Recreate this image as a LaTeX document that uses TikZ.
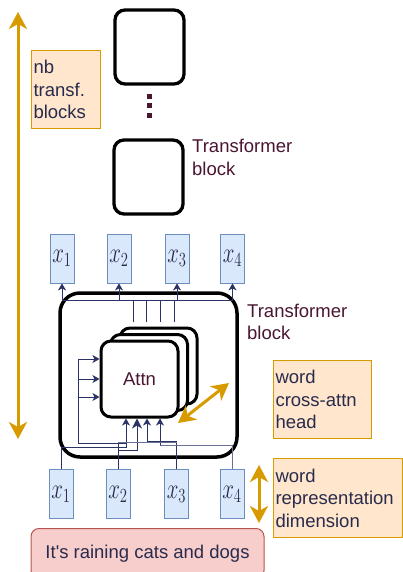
\documentclass[tikz,border=0pt]{standalone}
\usepackage[no-math]{fontspec}
\usepackage{fix-cm}
\usepackage{graphicx}
\setmainfont{Liberation Sans}[Ligatures=TeXOff]
\usetikzlibrary{arrows.meta}
\definecolor{orng}{HTML}{D79B00}
\definecolor{ofill}{HTML}{FFE6CC}
\definecolor{xfill}{HTML}{DAE8FC}
\definecolor{xline}{HTML}{6C8EBF}
\definecolor{rfill}{HTML}{F8CECC}
\definecolor{rline}{HTML}{B85450}
\definecolor{navy}{HTML}{2B3366}
\definecolor{navyl}{HTML}{6A7199}
\definecolor{maroon}{HTML}{4A1531}
\definecolor{txt}{HTML}{282B4D}
\newcommand{\xlab}[1]{\scalebox{0.95}[1.3]{$x_{#1}$}}
\begin{document}
\begin{tikzpicture}[x=1pt,y=-1pt,
  every node/.style={font=\fontsize{18.5}{22.5}\selectfont},
  blk/.style={draw=black, line width=3.3pt, rounded corners=10pt, minimum width=69pt, minimum height=74pt, inner sep=0pt},
  bigblk/.style={draw=black, line width=3.5pt, rounded corners=20pt, minimum width=177pt, minimum height=164pt, inner sep=0pt},
  xbox/.style={draw=xline, fill=xfill, line width=0.8pt, minimum width=24pt, minimum height=49pt, inner sep=0pt, font=\fontsize{22}{26}\selectfont, text=txt},
  obox/.style={draw=orng, fill=ofill, line width=1pt, anchor=north west, align=left, inner xsep=2pt, inner ysep=0pt, text=txt},
  attnbox/.style={draw=black, fill=white, line width=3pt, rounded corners=10pt, minimum width=77pt, minimum height=76pt, inner sep=0pt},
  wire/.style={draw=navy, line width=1pt},
  wirel/.style={draw=navyl, line width=1pt},
  warr/.style={wire, -{Stealth[length=7pt,width=8pt,inset=2pt]}},
  bigwarr/.style={wire, -{Stealth[length=10pt,width=10pt,inset=3pt]}},
  oarr/.style={draw=orng, line width=3pt, {Stealth[length=17pt,width=18pt,inset=5pt]}-{Stealth[length=17pt,width=18pt,inset=5pt]}},
  lbl/.style={text=maroon, align=left, anchor=west, inner sep=0pt},
  dotsq/.style={fill=maroon, minimum size=5pt, inner sep=0pt}
]
\useasboundingbox (0,0) rectangle (403,572);
\clip (0,0) rectangle (403,572);

% upper stack
\node[blk] (b3) at (149.5,47) {};
\node[dotsq] (d1) at (149.5,96.5) {};
\node[dotsq] (d2) at (149.5,106) {};
\node[dotsq] (d3) at (149.5,115.5) {};
\node[blk] (b2) at (148.5,177) {};
\node[lbl] (l2) at (192,157.5) {Transformer\\block};

% orange labels
\node[obox, text width=65pt, minimum height=78pt] (nb) at (31,50) {nb\\transf.\\blocks};
\node[obox, text width=94pt, minimum height=78pt] (cah) at (273,360) {word\\cross-attn\\head};
\node[obox, text width=125pt, minimum height=79pt] (wrd) at (273,458) {word\\representation\\dimension};

% main transformer block
\node[bigblk] (tb) at (148.5,375) {};
\node[lbl] (l1) at (247,322) {Transformer\\block};

% x boxes
\node[xbox] (xu1) at (62,258.5) {\xlab{1}};
\node[xbox] (xu2) at (119,258.5) {\xlab{2}};
\node[xbox] (xu3) at (177,258.5) {\xlab{3}};
\node[xbox] (xu4) at (232.5,258.5) {\xlab{4}};
\node[xbox] (xl1) at (61,494) {\xlab{1}};
\node[xbox] (xl2) at (118,494) {\xlab{2}};
\node[xbox] (xl3) at (176.5,494) {\xlab{3}};
\node[xbox] (xl4) at (232,494) {\xlab{4}};

% sentence
\node[draw=rline, fill=rfill, line width=1pt, rounded corners=8pt, minimum width=233pt, minimum height=50pt, anchor=north, inner sep=0pt, text=txt] (sent) at (147.5,528) {It's raining cats and dogs};

% attention heads
\node[attnbox] (a3) at (158.5,366) {};
\node[attnbox] (a2) at (149,372.5) {};
\node[attnbox, text=maroon] (a1) at (139.5,379) {Attn};

% upper wiring
\coordinate (bus) at (0,300);
\coordinate (u1) at (133,322);
\coordinate (u2) at (146,322);
\coordinate (u3) at (160,322);
\coordinate (u4) at (174,322);
\foreach \u in {u1,u2,u3,u4} \draw[wire] (\u) -- (\u |- bus);
\draw[wire] (xu1.south |- bus) -- (xu4.south |- bus);
\foreach \x in {xu1,xu2,xu3,xu4} \draw[warr] (\x.south |- bus) -- (\x.south);

% lower wiring
\coordinate (p1) at (126,447);
\coordinate (lb) at (78,443);
\coordinate (lbe) at (126,443);
\coordinate (p2) at (137,450);
\coordinate (p3) at (147,441);
\coordinate (p4) at (160,445);
\coordinate (p4b) at (118,442);
\draw[wire] (lb) -- (lbe);
\draw[wire] (lb) -- ([yshift=20pt]a1.west -| lb);
\draw[warr] ([yshift=20pt]a1.west -| lb) -- ([yshift=20pt]a1.west);
\draw[warr] (a1.west -| lb) -- (a1.west);
\draw[warr] ([yshift=-18pt]a1.west -| lb) -- ([yshift=-18pt]a1.west);
\draw[warr] (xl1.north) |- (p1) -- (p1 |- a1.south);
\draw[bigwarr] (xl2.north) |- (p2) -- (p2 |- a1.south);
\draw[wire] (xl2.north) -- (xl2.north |- p4b);
\draw[warr] (xl3.north) |- (p3) -- (p3 |- a1.south);
\draw[wirel] (xl4.north) |- (p4) -- (p4 |- a1.south);
\draw[warr] (p4) -- (p4 |- a1.south);
\draw[wirel] (p4b) -- (xl3.north |- p4b);

% orange arrows
\coordinate (la1) at (18,12);
\coordinate (la2) at (18,439);
\draw[oarr] (la1) -- (la2);
\coordinate (da1) at (178,423);
\coordinate (da2) at (229,383);
\draw[oarr] (da1) -- (da2);
\coordinate (va1) at (259,465);
\coordinate (va2) at (259,523);
\draw[oarr] (va1) -- (va2);
\end{tikzpicture}
\end{document}
